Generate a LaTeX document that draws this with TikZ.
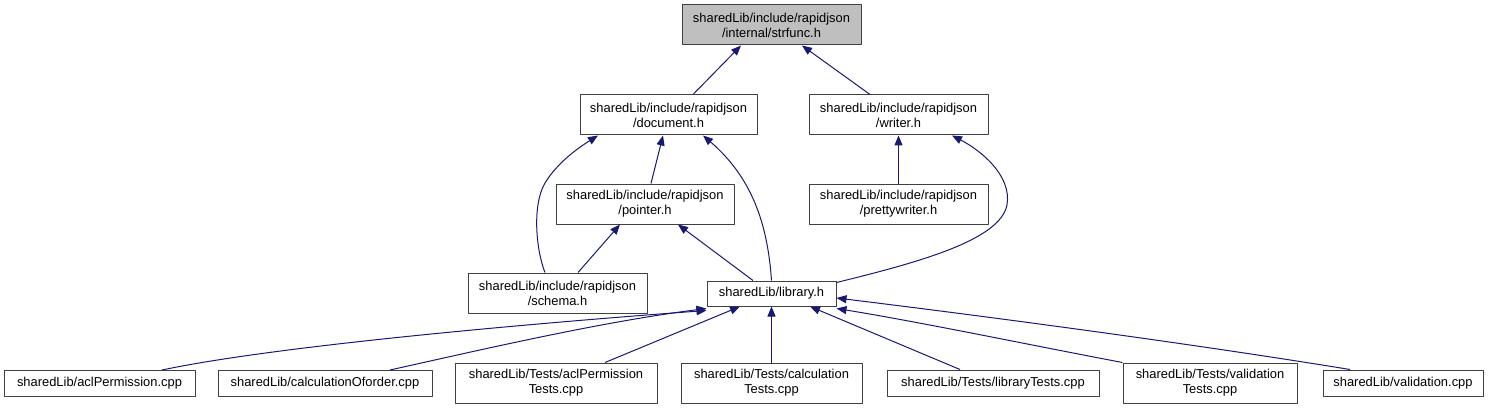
\documentclass[tikz,border=0pt]{standalone}
\usepackage{fontspec}
\setmainfont{Liberation Sans}
\usetikzlibrary{arrows.meta}
\definecolor{edgeblue}{RGB}{25,25,112}
\definecolor{boxline}{RGB}{64,64,64}
\definecolor{boxfill}{RGB}{191,191,191}
\begin{document}
\begin{tikzpicture}[x=1pt,y=-1pt,font=\fontsize{12.9}{15}\selectfont,line join=round,
	>={Triangle[length=10pt,width=8pt]},
	box/.style={draw=boxline,line width=1pt,fill=white,align=center,inner sep=0pt,minimum height=40},
	onebox/.style={box,minimum height=26},
	dep/.style={->,draw=edgeblue,line width=1pt}]
	\useasboundingbox (0,0) rectangle (1491,409);
	% header files
	\node[box,fill=boxfill,minimum width=179] (strfunc) at (771.5,25) {sharedLib/include/rapidjson\\/internal/strfunc.h};
	\node[box,minimum width=177] (document) at (668.5,115) {sharedLib/include/rapidjson\\/document.h};
	\node[box,minimum width=179] (writer) at (898.5,115) {sharedLib/include/rapidjson\\/writer.h};
	\node[box,minimum width=178] (pointer) at (645,204) {sharedLib/include/rapidjson\\/pointer.h};
	\node[box,minimum width=179] (pretty) at (898.5,204) {sharedLib/include/rapidjson\\/prettywriter.h};
	\node[box,minimum width=179] (schema) at (557.5,293) {sharedLib/include/rapidjson\\/schema.h};
	\node[onebox,minimum width=129,minimum height=25] (library) at (771.5,293.5) {sharedLib/library.h};
	% sources
	\node[onebox,minimum width=191] (aclcpp) at (99.5,383.5) {sharedLib/aclPermission.cpp};
	\node[onebox,minimum width=214] (calcorder) at (325,383.5) {sharedLib/calculationOforder.cpp};
	\node[box,minimum width=202] (acltests) at (556,383) {sharedLib/Tests/aclPermission\\Tests.cpp};
	\node[box,minimum width=181] (calctests) at (771.5,383) {sharedLib/Tests/calculation\\Tests.cpp};
	\node[onebox,minimum width=212] (libtests) at (993,383) {sharedLib/Tests/libraryTests.cpp};
	\node[box,minimum width=174] (valtests) at (1210,383) {sharedLib/Tests/validation\\Tests.cpp};
	\node[onebox,minimum width=160] (valcpp) at (1403,383) {sharedLib/validation.cpp};

	\draw[dep] ([xshift=24.5]document.north) -- ([xshift=-30.5]strfunc.south);
	\draw[dep] ([xshift=-28.5]writer.north) -- ([xshift=30.5]strfunc.south);
	\draw[dep] ([xshift=-12.5]schema.north) .. controls (536,250) and (532,205) .. (545,183)
		.. controls (557,163) and (578,148) .. ([xshift=-70.5]document.south);
	\draw[dep] ([xshift=6]pointer.north) -- ([xshift=-5.5]document.south);
	\draw[dep] (library.north) .. controls (768,230) and (755,180) .. ([xshift=34.5]document.south);
	\draw[dep] ([xshift=20.5]schema.north) -- ([xshift=-25]pointer.south);
	\draw[dep] ([xshift=-18.5]library.north) -- ([xshift=33]pointer.south);
	\draw[dep] (pretty.north) -- (writer.south);
	\draw[dep] ([yshift=-2]library.north east) .. controls (920,262) and (1000,240) .. (1007,205)
		.. controls (1012,175) and (980,150) .. ([xshift=53.5]writer.south);
	% includes of library.h
	\draw[dep] ([xshift=62.5]aclcpp.north) .. controls (280,345) and (550,322) .. ([yshift=-4]library.south west);
	\draw[dep] ([xshift=65]calcorder.north) .. controls (480,350) and (600,322) .. ([yshift=-2]library.south west);
	\draw[dep] ([xshift=49]acltests.north) -- ([xshift=-31.5]library.south);
	\draw[dep] (calctests.north) -- (library.south);
	\draw[dep] ([xshift=-33]libtests.north) -- ([xshift=38.5]library.south);
	\draw[dep] (valtests.north west) .. controls (1030,345) and (920,322) .. ([yshift=-2]library.south east);
	\draw[dep] ([xshift=-53]valcpp.north) .. controls (1200,345) and (1000,318) .. ([yshift=-4.5]library.east);
\end{tikzpicture}
\end{document}
